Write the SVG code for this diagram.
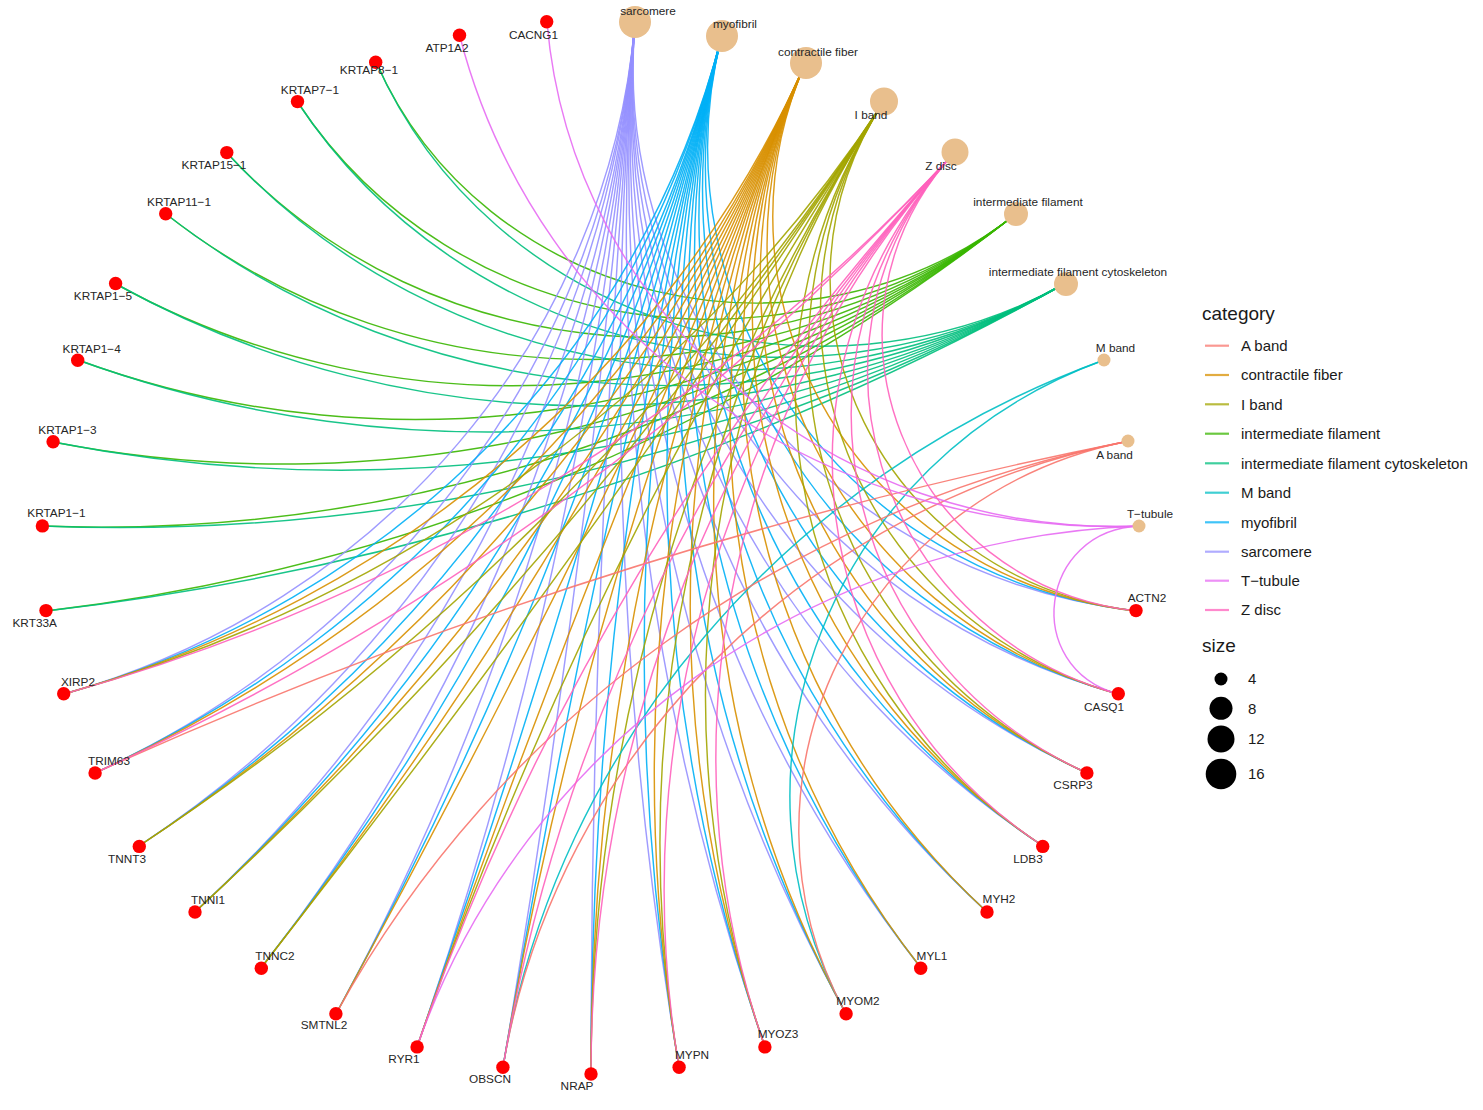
<svg xmlns="http://www.w3.org/2000/svg" width="1483" height="1110" viewBox="0 0 1483 1110">
<style>
.e{fill:none;stroke-width:1.45;stroke-opacity:.9}
.ab{stroke:#F8766D}.cf{stroke:#D89000}.ib{stroke:#A3A500}.if{stroke:#39B600}.ifc{stroke:#00BF7D}.mb{stroke:#00BFC4}.my{stroke:#00B0F6}.sa{stroke:#9590FF}.tt{stroke:#E76BF3}.zd{stroke:#FF62BC}
.g{fill:#FF0000}
.c{fill:#E9BF8D}
text{font-family:"Liberation Sans",Arial,sans-serif}
.lb{font-size:11.8px;fill:#262626;text-anchor:middle}
.lt{font-size:19px;fill:#1a1a1a}
.li{font-size:15px;fill:#1a1a1a}
.ll{stroke-width:2.2;stroke-opacity:.75}
</style>
<rect width="1483" height="1110" fill="#ffffff"/>
<g id="connectors">
<g class="e if">
<path d="M1016 214C804 380 483 305 376 62"/>
<path d="M1016 214C790 391 454 339 297.5 102"/>
<path d="M1016 214C778.5 400 430 373 227 153"/>
<path d="M1016 214C769 408 413 408 166 214"/>
<path d="M1016 214C760 414 402 442 116 284"/>
<path d="M1016 214C753 420 395 476 78 360"/>
<path d="M1016 214C748 424 392.5 508 53 442"/>
<path d="M1016 214C742 429 396 539.5 42 526"/>
<path d="M1016 214C738 432 402 569 46 611"/>
</g>
<g class="e ifc">
<path d="M1066 283C813 424 490 320 376 62"/>
<path d="M1066 283C801 431 462 351 297.5 102"/>
<path d="M1066 283C790 437 439 382 227 153"/>
<path d="M1066 283C780 442 422 414 166 214"/>
<path d="M1066 283C772 446.5 410 447 116 284"/>
<path d="M1066 283C766 450 402 478 78 360"/>
<path d="M1066 283C760 453 400 510 53 442"/>
<path d="M1066 283C755.5 456 401 540 42 526"/>
<path d="M1066 283C752 458 406 569 46 611"/>
</g>
<g class="e sa">
<path d="M635 22C608.5 338 381 605 64 694"/>
<path d="M635 22C608 347 402 633 95 773"/>
<path d="M635 22C607 353 424 657.5 139 846"/>
<path d="M635 22C606.6 360.5 450 677 195 912"/>
<path d="M635 22C606 365 477 693 261 968"/>
<path d="M635 22C606 369 504.5 705 336 1014"/>
<path d="M635 22C605.7 371 533 714.5 417 1047"/>
<path d="M635 22C605.7 372 562 720 503 1067"/>
<path d="M635 22C605.7 372 591 722.5 591 1074"/>
<path d="M635 22C605.7 371 620.5 721 679 1067"/>
<path d="M635 22C606 369 650 716.5 765 1047"/>
<path d="M635 22C606 365 679 708.5 846 1014"/>
<path d="M635 22C606.6 360.5 708 697 921 968"/>
<path d="M635 22C607 353 737 682 987 912"/>
<path d="M635 22C608 347 763 661 1043 846"/>
<path d="M635 22C608.5 338 788 637 1087 773"/>
<path d="M635 22C609 327 811 608 1118 694"/>
<path d="M635 22C610 315 831 575 1136 611"/>
</g>
<g class="e my">
<path d="M722 35C641 352 390 603 64 694"/>
<path d="M722 35C639 358 408 630 95 773"/>
<path d="M722 35C638 365 431 653 139 846"/>
<path d="M722 35C636 370 454 673 195 912"/>
<path d="M722 35C635.5 373.5 479 690 261 968"/>
<path d="M722 35C635 376 505.5 703 336 1014"/>
<path d="M722 35C635 377 533 713.5 417 1047"/>
<path d="M722 35C635 377 562 720 503 1067"/>
<path d="M722 35C635 376 591 723.5 591 1074"/>
<path d="M722 35C635.5 373.5 621 723 679 1067"/>
<path d="M722 35C636 370 651 720 765 1047"/>
<path d="M722 35C638 365 682 713 846 1014"/>
<path d="M722 35C639 358 713 702.5 921 968"/>
<path d="M722 35C641 352 742 686 987 912"/>
<path d="M722 35C643 343 771 666 1043 846"/>
<path d="M722 35C646 333 798 641.5 1087 773"/>
<path d="M722 35C649 321 823.5 612 1118 694"/>
<path d="M722 35C652 307.5 846 577 1136 611"/>
</g>
<g class="e cf">
<path d="M806 62C670 368 396 601 64 694"/>
<path d="M806 62C667 375 415 627 95 773"/>
<path d="M806 62C665 379 435 651 139 846"/>
<path d="M806 62C664 383 457 671 195 912"/>
<path d="M806 62C663 385 481 688 261 968"/>
<path d="M806 62C663 385.5 506 702 336 1014"/>
<path d="M806 62C663 385.5 533 713.5 417 1047"/>
<path d="M806 62C663 385 561.5 721 503 1067"/>
<path d="M806 62C664 383 591 726 591 1074"/>
<path d="M806 62C665 379 621.5 727 679 1067"/>
<path d="M806 62C667 375 653 724.5 765 1047"/>
<path d="M806 62C670 368 685 719 846 1014"/>
<path d="M806 62C673 362 717 707.5 921 968"/>
<path d="M806 62C677 354 749 692 987 912"/>
<path d="M806 62C681 344 780 672 1043 846"/>
<path d="M806 62C686 333 810 647 1087 773"/>
<path d="M806 62C692 320 838 616 1118 694"/>
<path d="M806 62C698.5 305 863.5 579 1136 611"/>
</g>
<g class="e ib">
<path d="M884 101.5C695 389 404 599 64 694"/>
<path d="M884 101.5C690 396 438 648.5 139 846"/>
<path d="M884 101.5C689 398 458 669 195 912"/>
<path d="M884 101.5C689 399 481 687 261 968"/>
<path d="M884 101.5C689 398 533 714.5 417 1047"/>
<path d="M884 101.5C692.5 393 591 729 591 1074"/>
<path d="M884 101.5C695 389 622 732 679 1067"/>
<path d="M884 101.5C699 383 655 731.5 765 1047"/>
<path d="M884 101.5C720 350.5 790 679 1043 846"/>
<path d="M884 101.5C728 338.5 823 653 1087 773"/>
<path d="M884 101.5C738 324 855 620 1118 694"/>
<path d="M884 101.5C748 308 883 581 1136 611"/>
</g>
<g class="e mb">
<path d="M1104 360C787 476 557 745 503 1067"/>
<path d="M1104 360C831 459.5 710 765 846 1014"/>
</g>
<g class="e ab">
<path d="M1129 441C771 512 425 623 95 773"/>
<path d="M1129 441C789.5 508 497 719 336 1014"/>
<path d="M1129 441C805 505 556 754 503 1067"/>
<path d="M1129 441C860 494 719 780 846 1014"/>
</g>
<g class="e tt">
<path d="M1140 526C833 538 571.5 315 547 22"/>
<path d="M1140 526C820 538 536 333 459.5 35"/>
<path d="M1140 526C809 538.5 522 746 417 1047"/>
<path d="M1140 526C1039 529.5 1021 667 1118 694"/>
</g>
<g class="e zd">
<path d="M955 152C717 410 409 598 64 694"/>
<path d="M955 152C714 413 423 624 95 773"/>
<path d="M955 152C714 413 532 716.5 417 1047"/>
<path d="M955 152C717 410 560.5 727 503 1067"/>
<path d="M955 152C720 407 591 734 591 1074"/>
<path d="M955 152C725 401 623.5 739 679 1067"/>
<path d="M955 152C730 397 657 737.5 765 1047"/>
<path d="M955 152C761 362 802 687 1043 846"/>
<path d="M955 152C773 350 839 660 1087 773"/>
<path d="M955 152C786 335 874 626 1118 694"/>
<path d="M955 152C801 319 905.5 584 1136 611"/>
</g>
</g>
<g id="categories">
<g id="n-sarcomere"><circle class="c" cx="635" cy="22" r="16"/><text class="lb" x="648" y="15">sarcomere</text></g>
<g id="n-myofibril"><circle class="c" cx="722" cy="36" r="16"/><text class="lb" x="735" y="28">myofibril</text></g>
<g id="n-contractile-fiber"><circle class="c" cx="806" cy="63" r="16"/><text class="lb" x="818" y="56">contractile fiber</text></g>
<g id="n-I-band"><circle class="c" cx="884" cy="101.5" r="14"/><text class="lb" x="871" y="119">I band</text></g>
<g id="n-Z-disc"><circle class="c" cx="955" cy="152" r="13.5"/><text class="lb" x="941" y="170">Z disc</text></g>
<g id="n-intermediate-filament"><circle class="c" cx="1016" cy="214" r="12"/><text class="lb" x="1028" y="206">intermediate filament</text></g>
<g id="n-intermediate-filament-cytoskeleton"><circle class="c" cx="1066" cy="284" r="12"/><text class="lb" x="1078" y="276">intermediate filament cytoskeleton</text></g>
<g id="n-M-band"><circle class="c" cx="1104" cy="360" r="6.5"/><text class="lb" x="1115.5" y="352">M band</text></g>
<g id="n-A-band"><circle class="c" cx="1128" cy="441" r="6.5"/><text class="lb" x="1114.5" y="459">A band</text></g>
<g id="n-T-tubule"><circle class="c" cx="1139" cy="526" r="6.5"/><text class="lb" x="1150" y="518">T−tubule</text></g>
</g>
<g id="genes">
<g id="n-CACNG1"><circle class="g" cx="546.7" cy="21.7" r="6.7"/><text class="lb" x="533.5" y="39">CACNG1</text></g>
<g id="n-ATP1A2"><circle class="g" cx="459.5" cy="35.3" r="6.7"/><text class="lb" x="447" y="52">ATP1A2</text></g>
<g id="n-KRTAP8-1"><circle class="g" cx="375.7" cy="62.2" r="6.7"/><text class="lb" x="369" y="74">KRTAP8−1</text></g>
<g id="n-KRTAP7-1"><circle class="g" cx="297.5" cy="101.6" r="6.7"/><text class="lb" x="310" y="94">KRTAP7−1</text></g>
<g id="n-KRTAP15-1"><circle class="g" cx="226.8" cy="152.6" r="6.7"/><text class="lb" x="214" y="169">KRTAP15−1</text></g>
<g id="n-KRTAP11-1"><circle class="g" cx="165.7" cy="213.8" r="6.7"/><text class="lb" x="179" y="206">KRTAP11−1</text></g>
<g id="n-KRTAP1-5"><circle class="g" cx="115.6" cy="283.5" r="6.7"/><text class="lb" x="103" y="300">KRTAP1−5</text></g>
<g id="n-KRTAP1-4"><circle class="g" cx="77.7" cy="360.2" r="6.7"/><text class="lb" x="91.7" y="353">KRTAP1−4</text></g>
<g id="n-KRTAP1-3"><circle class="g" cx="53.1" cy="441.7" r="6.7"/><text class="lb" x="67.5" y="434">KRTAP1−3</text></g>
<g id="n-KRTAP1-1"><circle class="g" cx="42.4" cy="525.9" r="6.7"/><text class="lb" x="56.5" y="517">KRTAP1−1</text></g>
<g id="n-KRT33A"><circle class="g" cx="46" cy="610.6" r="6.7"/><text class="lb" x="34.7" y="627">KRT33A</text></g>
<g id="n-XIRP2"><circle class="g" cx="63.7" cy="693.7" r="6.7"/><text class="lb" x="78" y="686">XIRP2</text></g>
<g id="n-TRIM63"><circle class="g" cx="95.1" cy="773" r="6.7"/><text class="lb" x="109" y="765">TRIM63</text></g>
<g id="n-TNNT3"><circle class="g" cx="139.3" cy="846.4" r="6.7"/><text class="lb" x="127" y="863">TNNT3</text></g>
<g id="n-TNNI1"><circle class="g" cx="195" cy="912" r="6.7"/><text class="lb" x="208" y="904">TNNI1</text></g>
<g id="n-TNNC2"><circle class="g" cx="261.3" cy="968.3" r="6.7"/><text class="lb" x="275" y="960">TNNC2</text></g>
<g id="n-SMTNL2"><circle class="g" cx="335.9" cy="1013.7" r="6.7"/><text class="lb" x="324" y="1029">SMTNL2</text></g>
<g id="n-RYR1"><circle class="g" cx="417.1" cy="1046.9" r="6.7"/><text class="lb" x="404" y="1063">RYR1</text></g>
<g id="n-OBSCN"><circle class="g" cx="502.9" cy="1067.2" r="6.7"/><text class="lb" x="490" y="1083">OBSCN</text></g>
<g id="n-NRAP"><circle class="g" cx="591" cy="1074" r="6.7"/><text class="lb" x="577" y="1090">NRAP</text></g>
<g id="n-MYPN"><circle class="g" cx="679.1" cy="1067.2" r="6.7"/><text class="lb" x="692" y="1059">MYPN</text></g>
<g id="n-MYOZ3"><circle class="g" cx="764.9" cy="1046.9" r="6.7"/><text class="lb" x="778" y="1038">MYOZ3</text></g>
<g id="n-MYOM2"><circle class="g" cx="846.1" cy="1013.7" r="6.7"/><text class="lb" x="858" y="1005">MYOM2</text></g>
<g id="n-MYL1"><circle class="g" cx="920.7" cy="968.3" r="6.7"/><text class="lb" x="932" y="960">MYL1</text></g>
<g id="n-MYH2"><circle class="g" cx="987" cy="912" r="6.7"/><text class="lb" x="999" y="903">MYH2</text></g>
<g id="n-LDB3"><circle class="g" cx="1042.7" cy="846.4" r="6.7"/><text class="lb" x="1028" y="863">LDB3</text></g>
<g id="n-CSRP3"><circle class="g" cx="1086.9" cy="773" r="6.7"/><text class="lb" x="1073" y="789">CSRP3</text></g>
<g id="n-CASQ1"><circle class="g" cx="1118.3" cy="693.7" r="6.7"/><text class="lb" x="1104" y="711">CASQ1</text></g>
<g id="n-ACTN2"><circle class="g" cx="1136" cy="610.6" r="6.7"/><text class="lb" x="1147" y="602">ACTN2</text></g>
</g>
<g id="legend">
<text class="lt" x="1202" y="320">category</text>
<line class="ll ab" x1="1205" y1="345.7" x2="1229" y2="345.7"/><text class="li" x="1241" y="351">A band</text>
<line class="ll cf" x1="1205" y1="375" x2="1229" y2="375"/><text class="li" x="1241" y="380">contractile fiber</text>
<line class="ll ib" x1="1205" y1="404.3" x2="1229" y2="404.3"/><text class="li" x="1241" y="409.5">I band</text>
<line class="ll if" x1="1205" y1="433.7" x2="1229" y2="433.7"/><text class="li" x="1241" y="439">intermediate filament</text>
<line class="ll ifc" x1="1205" y1="463.3" x2="1229" y2="463.3"/><text class="li" x="1241" y="468.5">intermediate filament cytoskeleton</text>
<line class="ll mb" x1="1205" y1="492.7" x2="1229" y2="492.7"/><text class="li" x="1241" y="498">M band</text>
<line class="ll my" x1="1205" y1="522.3" x2="1229" y2="522.3"/><text class="li" x="1241" y="527.5">myofibril</text>
<line class="ll sa" x1="1205" y1="551.7" x2="1229" y2="551.7"/><text class="li" x="1241" y="557">sarcomere</text>
<line class="ll tt" x1="1205" y1="580.7" x2="1229" y2="580.7"/><text class="li" x="1241" y="586">T−tubule</text>
<line class="ll zd" x1="1205" y1="610" x2="1229" y2="610"/><text class="li" x="1241" y="615">Z disc</text>
<text class="lt" x="1202" y="652">size</text>
<circle cx="1221" cy="679" r="6.5" fill="#000"/><text class="li" x="1248" y="684">4</text>
<circle cx="1221" cy="708.3" r="11.5" fill="#000"/><text class="li" x="1248" y="713.5">8</text>
<circle cx="1221" cy="739" r="13.5" fill="#000"/><text class="li" x="1248" y="744">12</text>
<circle cx="1221" cy="774" r="15.3" fill="#000"/><text class="li" x="1248" y="779">16</text>
</g>
</svg>
